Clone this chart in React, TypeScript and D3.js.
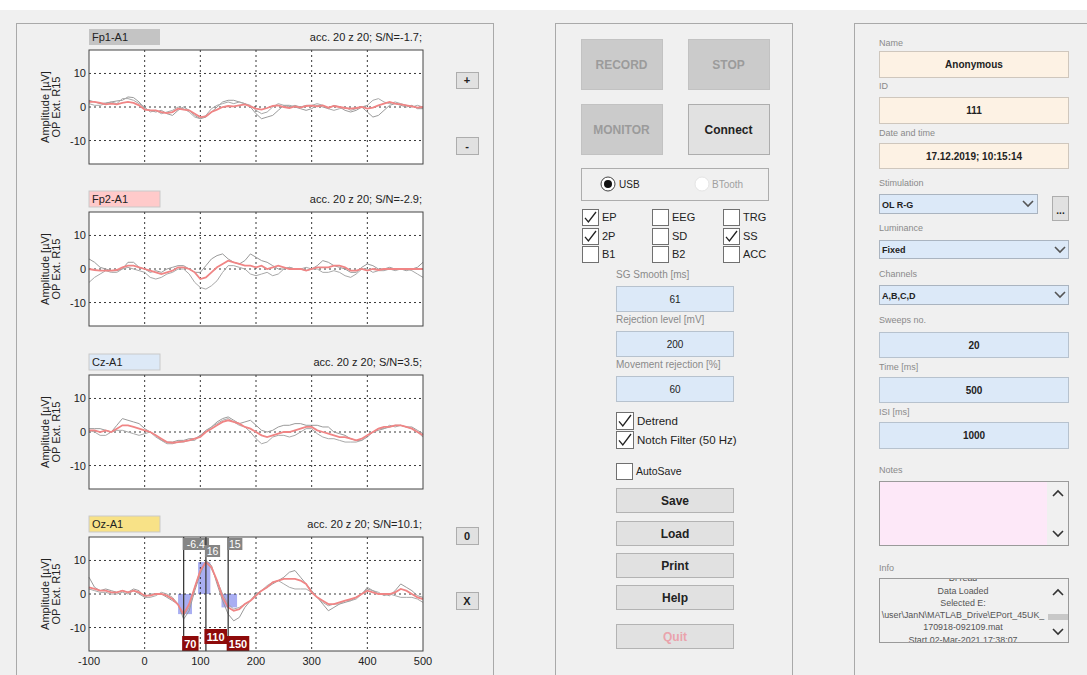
import React from 'react';
import * as d3 from 'd3';

// ---------- data ----------
const TIMES = d3.range(-100, 501, 10);
const CHANNELS = ['Fp1-A1', 'Fp2-A1', 'Cz-A1', 'Oz-A1'];
const SN_TEXT = ['acc. 20 z 20; S/N=-1.7;', 'acc. 20 z 20; S/N=-2.9;', 'acc. 20 z 20; S/N=3.5;', 'acc. 20 z 20; S/N=10.1;'];
const Y_TICKS = [10, 0, -10];
const X_TICKS = [-100, 0, 100, 200, 300, 400, 500];
const Y_DOMAIN = [-17, 17];

const FP1_MEAN = [1.5, 1.5, 1.2, 0.8, 1.0, 0.8, 1.2, 1.5, 1.2, 0.5, -0.8, -1.0, -1.0, -1.5, -1.8, -1.5, -0.5, -0.8, -1.0, -2.0, -3.0, -2.8, -1.5, -0.8, 0, 0.3, 0.2, 0.5, 0.8, 0.2, -0.5, -0.8, -0.3, 0.3, 0.5, 0, -0.3, 0.2, -0.2, 0.3, 0.4, 0.2, 0.5, -0.2, 0.3, 0, -0.3, -0.5, -0.3, 0, -0.5, -0.2, 0.5, 1.0, 1.5, 1.0, 0.8, 0.5, 0.2, -0.2, 0];
const FP1_A = [2, 1.5, 1, 1.2, 1.5, 1.8, 2, 3, 2.8, 1.5, -0.5, -1, -1.5, -1, -2, -2.5, -1, 0, -1, -2.5, -3.5, -3, -1.5, 0, 1.5, 2, 2, 1.5, 1, 0, -2, -3.5, -3, -2.5, -1, 0.5, 0.5, 0, -0.5, -1, -0.5, 0.5, 0, -0.5, 0.5, 0, -1, -1.5, -1, 0, -1.5, -3, -2.5, -1, 0.5, 1, 0.5, 0, 0.5, -0.5, -0.5];
const FP1_B = [1, 0.5, 0.5, 1, 1.5, 1, 2.5, 2.5, 2, 1, 0, -1.5, -1, -2, -1.5, -1, 0, -0.5, -1.5, -3, -3.5, -2.5, -0.5, 0.5, 1, 1.5, 1, 1.5, 1, 0.5, -1, -2, -1.5, 0, 1, 0.5, 0, 0.5, 0, 0.5, 0.5, 1, 0.5, -0.5, -1, -0.5, 0, -1, -0.5, 0, 0.5, 2, 2.5, 1.5, 1, 1.5, 1, 0.5, 0, 0.5, 0];

const FP2_MEAN = [0, -0.3, -0.5, -0.5, -0.5, -0.3, 0.5, 1, 1, 0.5, 0, -0.5, -1, -1.5, -1, -0.5, 0.5, 0.5, 0, -1, -3, -2.5, -1, 0.5, 1.5, 2.5, 2, 1.5, 1, 1, 0.5, 1, 0, 0.5, 1, 0.5, 0, 0, 0, -0.5, 0, 0.5, 0.5, 0.5, 1, 1, 0.5, -0.5, -0.5, 0, -0.5, 0, -0.3, 0, 0, 0, 0, 0, 0, 0, 0];
const FP2_A = [3, 2, 0.5, 0, -0.5, -0.5, 0, 2, 2, 0.5, 0, -1, -0.5, -1, 0, 0.5, 1, 1, 0, -1, -1, 1, 3, 4, 4.5, 3, 2, 1.5, 2.5, 4.5, 3.5, 2.5, 2, 1, 0, 0, 0.5, 0, 0, -0.5, 0, 1, 2.5, 2, 1, 0.5, 0, -1, -1, 0.5, 1.5, 1, 0, 0, 0.5, 0, 0, -0.5, 0, 0.5, 2];
const FP2_B = [-4, -2.5, -1.5, -0.5, -1, -1, 0, 0.5, 0, -0.5, -1, -2.5, -3, -2.5, -1.5, -1, 0, 0, -1.5, -4, -5.5, -6, -5, -3.5, -1, 1, 1, 0.5, 0, -1.5, -2, -1.5, -1, -2, -1.5, 0, 0.5, 0, 0, 0.5, 0, 0, -1, -1, -0.5, -1, -2, -2.5, -1.5, 0, 0, -1, -0.5, -0.5, 0, -0.5, 0, 0, -0.5, -1.5, -2.5];

const CZ_MEAN = [0.5, 0.5, 0, 0.5, 0, 1, 2, 2, 1.5, 1, 0.5, 0, -1, -2, -3, -3.2, -3, -2.8, -2.5, -2, -1.5, 0, 1, 2, 3, 3.5, 3, 2.5, 1.5, 1, 0, -1, -1.5, -1, -0.5, 0, 0, 0.5, 1, 1.5, 1.5, 0.5, 0, -0.5, -1, -1.5, -1.5, -2, -2.5, -2, -1, 0, 1, 1.5, 1.5, 2, 2, 1.5, 1, 0, -1];
const CZ_A = [1, 1, 1, 0.5, 0, 2, 4, 3.5, 3, 2.5, 1, 0, -1, -2.5, -3, -3, -2.5, -2.5, -2, -2, -1, 0.5, 1.5, 3, 4, 4.5, 3.5, 2.5, 3, 3.5, 2, 0.5, 0, 0.5, 1.5, 2, 2, 2.5, 2.5, 2, 2, 2, 1.5, 1.5, 0, -0.5, -1, -2, -2.5, -2.5, -1.5, 0, 0.5, 1, 1.5, 2, 2, 1.5, 1.5, 0.5, -0.5];
const CZ_B = [0.5, 0, -1, -1, 0, 0.5, 0.5, 0, -0.5, -1, -0.5, 0, -1.5, -2.5, -3.5, -3.5, -3, -3, -2.5, -2.5, -1, 0, 1.5, 2.5, 3.5, 4, 3, 2, 1.5, 0, -2, -3.5, -3, -1.5, -1, -1, -1.5, -1, 0, 1, 1, -0.5, -1.5, -2, -2, -2.5, -3, -3, -3, -2.5, -1, 0, 1, 1, 2, 1.5, 2, 1.5, 1, 0, -1.5];

const OZ_MEAN = [2, 1.5, 1, 1, 0.5, 0.5, 1, 0.5, 1, 0.5, -0.5, -0.5, 0, 0, -0.5, -1.5, -3.2, -6, -3, 2, 7, 9.5, 8, 4, -1, -4, -5, -4.5, -3, -2, -0.5, 1, 2, 3.5, 4, 4.5, 4.5, 4.5, 4, 3, 0.5, -1, -2, -3, -3, -2.5, -2, -1.5, -1, 0, 1, 0.5, 0, 0, 0, 0.5, 1.5, 1, 0, -1, -1.5];
const OZ_A = [5, 2, 1, 1.5, 1, 0.5, 1, 0.5, 1.5, 1, -1, 0, 0, 0, -1, -2, -3, -7.5, -5, 1, 6, 10, 8.5, 3, -2, -6, -8, -7, -4, -2, 0, 1, 2, 3, 4, 5, 6.5, 7, 5, 3, 1, -1, -3, -5, -4, -3, -2.5, -2, -1, 0, 1.5, 1, 0, 0, -0.5, 1, 3, 2, 1, -0.5, -1];
const OZ_B = [1.5, 1, 0.5, 0.5, 0, 0, 0.5, 0, 1, 0, -1, -1, -0.5, 0.5, 0, -1, -3, -6.5, -4, 2, 7, 9.5, 7.5, 4, 0, -3, -4.5, -4, -3, -2, 0, 1, 2.5, 3.5, 4, 3, 2, 1.5, 1.5, 1.5, 0.5, -1, -2.5, -3.5, -3, -3, -2, -2, -1.5, 0, 2, 1, 0.5, -0.5, 0, -0.5, -1, -1, -1, -1.5, -2.5];

const MEANS = [FP1_MEAN, FP2_MEAN, CZ_MEAN, OZ_MEAN];
const SWEEPS_A = [FP1_A, FP2_A, CZ_A, OZ_A];
const SWEEPS_B = [FP1_B, FP2_B, CZ_B, OZ_B];

const PEAK_LATENCY = [70, 110, 150];
const PEAK_AMPLITUDE = ['-6.4', '16', '15'];
const PEAK_WIN_START = [60, 96, 138];
const PEAK_WIN_END = [85, 118, 166];
const PEAK_WIN_LEVEL = [-6, 9.5, -4];

const BIG_BUTTONS = ['RECORD', 'STOP', 'MONITOR', 'Connect'];
const CHECK_LABELS = [['EP', 'EEG', 'TRG'], ['2P', 'SD', 'SS'], ['B1', 'B2', 'ACC']];
const CHECK_STATE = [[true, false, false], [true, false, true], [false, false, false]];
const PARAM_LABELS = ['SG Smooth [ms]', 'Rejection level [mV]', 'Movement rejection [%]'];
const PARAM_VALUES = ['61', '200', '60'];
const ACTION_BUTTONS = ['Save', 'Load', 'Print', 'Help', 'Quit'];
const INFO_LINES = ['Di read', 'Data Loaded', 'Selected E:', '\\user\\JanN\\MATLAB_Drive\\EPort_45UK_', '170918-092109.mat', 'Start  02-Mar-2021 17:38:07'];

// ---------- layout ----------
const FONT = '"Liberation Sans", Arial, Helvetica, sans-serif';
const AX_LEFT = 89;
const AX_W = 334;
const AX_H = 114;
const PLOT_TOPS = [50, 212, 375, 537];
const LABEL_COLORS = ['#c4c4c4', '#ffcaca', '#dde9f7', '#f8e287'];

const Chevron = ({ x, y, up = false, color = '#555' }: any) => (
  <path
    d={up ? `M${x - 5},${y + 3} L${x},${y - 2} L${x + 5},${y + 3}` : `M${x - 5},${y - 2} L${x},${y + 3} L${x + 5},${y - 2}`}
    fill="none"
    stroke={color}
    strokeWidth={1.6}
  />
);

const Checkbox = ({ x, y, size = 16, checked, label, fs = 11, color = '#222' }: any) => (
  <g>
    <rect x={x + 0.5} y={y + 0.5} width={size} height={size} fill="#fff" stroke="#707070" />
    {checked && (
      <path
        d={`M${x + 3},${y + size * 0.55} L${x + size * 0.4},${y + size - 3} L${x + size - 2},${y + 3}`}
        fill="none"
        stroke="#222"
        strokeWidth={1.3}
      />
    )}
    <text x={x + size + 4} y={y + size / 2 + 4} fontSize={fs} fill={color}>{label}</text>
  </g>
);

const SmallBtn = ({ x, y, w, h, label }: any) => (
  <g>
    <rect x={x + 0.5} y={y + 0.5} width={w} height={h} fill="#e1e1e1" stroke="#adadad" />
    <text x={x + w / 2} y={y + h / 2 + 4} fontSize={11} fontWeight="bold" textAnchor="middle" fill="#222">{label}</text>
  </g>
);

function Plot({ idx }: { idx: number }) {
  const top = PLOT_TOPS[idx];
  const x = d3.scaleLinear().domain([TIMES[0], TIMES[TIMES.length - 1]]).range([AX_LEFT, AX_LEFT + AX_W]);
  const y = d3.scaleLinear().domain(Y_DOMAIN).range([top + AX_H, top]);
  const line = d3.line<number>().x((_, i) => x(TIMES[i])).y((v) => y(v));
  const isLast = idx === 3;
  const midY = top + AX_H / 2;
  return (
    <g>
      <rect x={AX_LEFT} y={top - 21} width={71} height={16} fill={LABEL_COLORS[idx]} stroke={idx === 0 ? 'none' : '#c9c9c9'} />
      <text x={AX_LEFT + 3} y={top - 9} fontSize={11} fill="#222">{CHANNELS[idx]}</text>
      <text x={AX_LEFT + AX_W - 1} y={top - 9} fontSize={11} textAnchor="end" fill="#222">{SN_TEXT[idx]}</text>
      <rect x={AX_LEFT} y={top} width={AX_W} height={AX_H} fill="#fff" />
      {isLast && PEAK_LATENCY.map((_, i) => (
        <rect key={'w' + i} x={x(PEAK_WIN_START[i])} width={x(PEAK_WIN_END[i]) - x(PEAK_WIN_START[i])}
          y={Math.min(y(0), y(PEAK_WIN_LEVEL[i]))} height={Math.abs(y(0) - y(PEAK_WIN_LEVEL[i]))}
          fill="#a9aef2" />
      ))}
      {Y_TICKS.map((t) => (
        <line key={'gy' + t} x1={AX_LEFT} x2={AX_LEFT + AX_W} y1={y(t)} y2={y(t)} stroke="#222" strokeDasharray="2,3" strokeWidth={0.9} />
      ))}
      {X_TICKS.slice(1, -1).map((t) => (
        <line key={'gx' + t} x1={x(t)} x2={x(t)} y1={top} y2={top + AX_H} stroke="#222" strokeDasharray="2,3" strokeWidth={0.9} />
      ))}
      <path d={line(SWEEPS_A[idx]) || ''} fill="none" stroke="#9a9a9a" strokeWidth={1} />
      <path d={line(SWEEPS_B[idx]) || ''} fill="none" stroke="#a8a8a8" strokeWidth={1} />
      <path d={line(MEANS[idx]) || ''} fill="none" stroke="#f08585" strokeWidth={1.8} />
      {Y_TICKS.map((t) => (
        <text key={'ty' + t} x={AX_LEFT - 3} y={y(t) + 4} fontSize={11} textAnchor="end" fill="#222">{t}</text>
      ))}
      <text transform={`translate(${49},${midY}) rotate(-90)`} fontSize={11} textAnchor="middle" fill="#222">Amplitude [µV]</text>
      <text transform={`translate(${60},${midY}) rotate(-90)`} fontSize={11} textAnchor="middle" fill="#222">OP Ext. R15</text>
      {isLast && X_TICKS.map((t) => (
        <text key={'tx' + t} x={x(t)} y={top + AX_H + 14} fontSize={11} textAnchor="middle" fill="#222">{t}</text>
      ))}
      {isLast && PEAK_LATENCY.map((lat, i) => {
        const lx = x(lat);
        const topOff = i === 1 ? 7 : 0;
        const botOff = i === 1 ? -7 : 0;
        const aw = PEAK_AMPLITUDE[i].length * 5.6 + 4;
        const lw = String(lat).length * 6.2 + 4;
        return (
          <g key={'pk' + i}>
            <line x1={lx} x2={lx} y1={top} y2={top + AX_H} stroke="#3a3a3a" strokeWidth={1.3} />
            <rect x={lx - 1} y={top + 1 + topOff} width={aw} height={12} fill="#858585" />
            <text x={lx - 1 + aw / 2} y={top + 11 + topOff} fontSize={10.5} textAnchor="middle" fill="#fff">{PEAK_AMPLITUDE[i]}</text>
            <rect x={lx - 1.5} y={top + AX_H - 15 + botOff} width={lw} height={15} fill="#8e0a0a" />
            <text x={lx - 1.5 + lw / 2} y={top + AX_H - 3.5 + botOff} fontSize={11} fontWeight="bold" textAnchor="middle" fill="#fff">{lat}</text>
          </g>
        );
      })}
      <rect x={AX_LEFT} y={top} width={AX_W} height={AX_H} fill="none" stroke="#444" strokeWidth={1} />
    </g>
  );
}

export default function App() {
  const bigPos = [[581, 39], [688, 39], [581, 104], [688, 104]];
  const checkCols = [582, 652, 723];
  const checkRows = [209, 228, 246];
  const paramTops = [286, 331, 376];
  const actionTops = [488, 521, 553, 585, 624];

  const rightLabels: [string, number][] = [
    ['Name', 46], ['ID', 89], ['Date and time', 136], ['Stimulation', 186], ['Luminance', 231], ['Channels', 277],
    ['Sweeps no.', 323], ['Time [ms]', 370], ['ISI [ms]', 415], ['Notes', 473], ['Info', 571],
  ];
  const peachBoxes: [string, number, number][] = [['Anonymous', 51, 26], ['111', 97, 26], ['17.12.2019; 10:15:14', 143, 25]];
  const blueBoxes: [string, number, number][] = [['20', 332, 25], ['500', 377, 25], ['1000', 422, 26]];
  const infoBaselines = [581, 594, 606, 618, 630, 643];

  return (
    <div style={{ position: 'absolute', left: 0, top: 0 }}>
      <svg width={1087} height={675} style={{ display: 'block', fontFamily: FONT }}>
        <defs>
          <clipPath id="infoClip"><rect x={880} y={579} width={167} height={63} /></clipPath>
        </defs>
        <rect x={0} y={0} width={1087} height={675} fill="#fff" />
        <rect x={0} y={10} width={1087} height={665} fill="#f0f0f0" />

        {/* panels */}
        <rect x={16.5} y={23.5} width={477} height={700} fill="none" stroke="#a9a9a9" />
        <rect x={555.5} y={23.5} width={237} height={700} fill="none" stroke="#a9a9a9" />
        <rect x={854.5} y={23.5} width={260} height={700} fill="none" stroke="#a9a9a9" />

        {/* plots */}
        {[0, 1, 2, 3].map((i) => <Plot key={i} idx={i} />)}

        <SmallBtn x={456} y={72} w={22} h={16} label="+" />
        <SmallBtn x={456} y={137} w={22} h={17} label="-" />
        <SmallBtn x={456} y={527} w={22} h={17} label="0" />
        <SmallBtn x={456} y={592} w={22} h={17} label="X" />

        {/* middle panel */}
        {BIG_BUTTONS.map((b, i) => {
          const [bx, by] = bigPos[i];
          const active = b === 'Connect';
          return (
            <g key={b}>
              <rect x={bx + 0.5} y={by + 0.5} width={81} height={50} fill={active ? '#e1e1e1' : '#cbcbcb'} stroke={active ? '#adadad' : '#c2c2c2'} />
              <text x={bx + 40.5} y={by + 30} fontSize={12} fontWeight="bold" textAnchor="middle" fill={active ? '#222' : '#9b9b9b'}>{b}</text>
            </g>
          );
        })}
        <rect x={581.5} y={168.5} width={187} height={32} fill="none" stroke="#adadad" />
        <circle cx={608} cy={184} r={7} fill="#fff" stroke="#444" />
        <circle cx={608} cy={184} r={4} fill="#111" />
        <text x={619} y={188} fontSize={10} fill="#222">USB</text>
        <circle cx={702} cy={184} r={7} fill="#fff" stroke="#e4e4e4" />
        <text x={712} y={188} fontSize={10} fill="#a0a0a0">BTooth</text>

        {CHECK_LABELS.map((row, r) => row.map((lab, c) => (
          <Checkbox key={lab} x={checkCols[c]} y={checkRows[r]} checked={CHECK_STATE[r][c]} label={lab} />
        )))}

        {PARAM_LABELS.map((lab, i) => (
          <g key={lab}>
            <text x={616} y={paramTops[i] - 8} fontSize={10} fill="#8a8a8a">{lab}</text>
            <rect x={616.5} y={paramTops[i] + 0.5} width={117} height={25} fill="#dce9f8" stroke="#b7c2ce" />
            <text x={675} y={paramTops[i] + 17} fontSize={10} textAnchor="middle" fill="#222">{PARAM_VALUES[i]}</text>
          </g>
        ))}
        <Checkbox x={616} y={412} size={17} checked label="Detrend" fs={11.5} />
        <Checkbox x={616} y={431} size={17} checked label="Notch Filter (50 Hz)" fs={11.5} />
        <Checkbox x={616} y={463} size={16} checked={false} label="AutoSave" fs={10.5} />

        {ACTION_BUTTONS.map((b, i) => (
          <g key={b}>
            <rect x={616.5} y={actionTops[i] + 0.5} width={117} height={24} fill="#e1e1e1" stroke="#b3b3b3" />
            <text x={675} y={actionTops[i] + 17} fontSize={12} fontWeight="bold" textAnchor="middle" fill={b === 'Quit' ? '#eaa3ac' : '#222'}>{b}</text>
          </g>
        ))}

        {/* right panel */}
        {rightLabels.map(([lab, ly]) => (
          <text key={lab} x={879} y={ly} fontSize={9} fill="#8a8a8a">{lab}</text>
        ))}
        {peachBoxes.map(([v, by, bh]) => (
          <g key={v}>
            <rect x={879.5} y={by + 0.5} width={189} height={bh} fill="#fdf2e4" stroke="#cfc7bd" />
            <text x={974} y={by + bh / 2 + 4} fontSize={10} fontWeight="bold" textAnchor="middle" fill="#222">{v}</text>
          </g>
        ))}
        <rect x={879.5} y={194.5} width={158} height={19} fill="#dce9f8" stroke="#aab4c0" />
        <text x={882} y={208} fontSize={9} fontWeight="bold" fill="#222">OL R-G</text>
        <Chevron x={1028} y={203} />
        <rect x={1052.5} y={196.5} width={16} height={24} fill="#e1e1e1" stroke="#adadad" />
        <text x={1060.5} y={214} fontSize={10} fontWeight="bold" textAnchor="middle" fill="#222">...</text>

        <rect x={879.5} y={240.5} width={189} height={18} fill="#dce9f8" stroke="#aab4c0" />
        <text x={882} y={253} fontSize={9} fontWeight="bold" fill="#222">Fixed</text>
        <Chevron x={1060} y={249} />
        <rect x={879.5} y={285.5} width={189} height={19} fill="#dce9f8" stroke="#aab4c0" />
        <text x={882} y={299} fontSize={9} fontWeight="bold" fill="#222">A,B,C,D</text>
        <Chevron x={1060} y={294} />

        {blueBoxes.map(([v, by, bh]) => (
          <g key={v}>
            <rect x={879.5} y={by + 0.5} width={189} height={bh} fill="#dce9f8" stroke="#b7c2ce" />
            <text x={974} y={by + bh / 2 + 4} fontSize={10} fontWeight="bold" textAnchor="middle" fill="#222">{v}</text>
          </g>
        ))}

        <rect x={879.5} y={481.5} width={189} height={64} fill="#f0f0f0" stroke="#9a9a9a" />
        <rect x={880} y={482} width={167} height={63} fill="#fde8f8" />
        <Chevron x={1058} y={493} up color="#333" />
        <Chevron x={1058} y={533} color="#333" />

        <rect x={879.5} y={578.5} width={189} height={64} fill="#f0f0f0" stroke="#9a9a9a" />
        <g clipPath="url(#infoClip)">
          {INFO_LINES.map((l, i) => (
            <text key={i} x={963} y={infoBaselines[i]} fontSize={8.9} textAnchor="middle" fill="#555">{l}</text>
          ))}
        </g>
        <Chevron x={1058} y={592} up color="#333" />
        <rect x={1048} y={614} width={20} height={6} fill="#c8c8c8" />
        <Chevron x={1058} y={631} color="#333" />
      </svg>
    </div>
  );
}
